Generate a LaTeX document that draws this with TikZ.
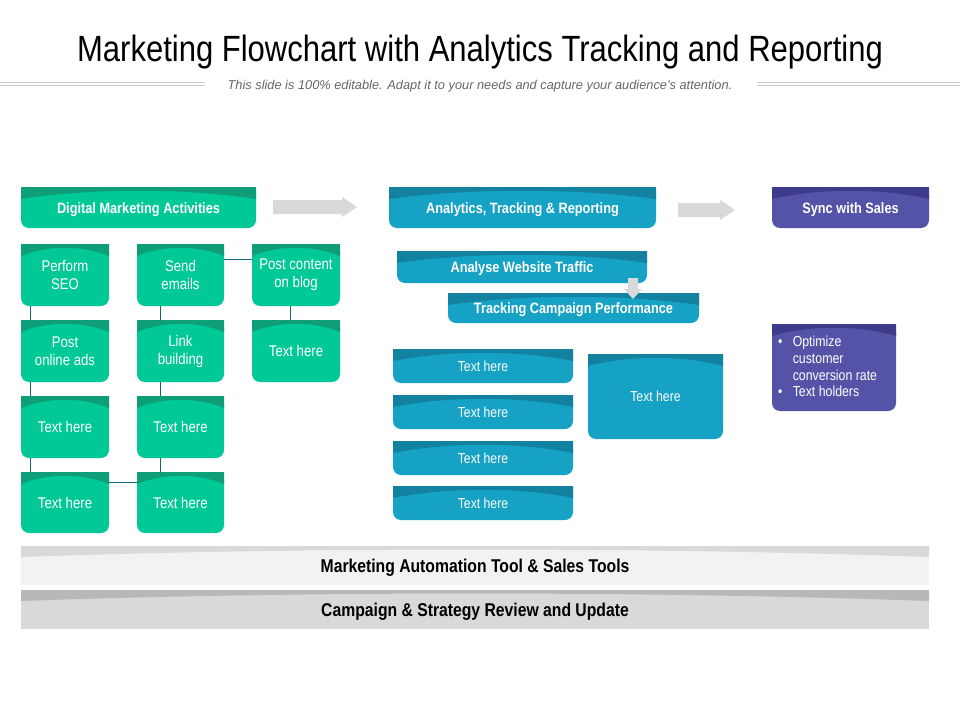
\documentclass[tikz,border=0pt]{standalone}
\usepackage{fontspec}
\setmainfont{Liberation Sans}
\newfontfamily\narrow[FakeStretch=0.85]{Liberation Sans}
\usetikzlibrary{calc}
\definecolor{gL}{RGB}{0,200,150}
\definecolor{gD}{RGB}{14,158,120}
\definecolor{bL}{RGB}{22,162,196}
\definecolor{bD}{RGB}{18,130,160}
\definecolor{pL}{RGB}{85,83,168}
\definecolor{pD}{RGB}{62,60,138}
\definecolor{arr}{RGB}{217,217,217}
\tikzset{lbl/.style={text=white,align=center,inner sep=0pt,font=\narrow\fontsize{15.5}{18}\selectfont},
  hdr/.style={text=white,align=center,inner sep=0pt,yshift=-2pt,font=\narrow\bfseries\fontsize{15}{17}\selectfont},
  conn/.style={draw=bD!80!black,line width=0.9pt}}
% name, x1,y1,x2,y2, light, dark, style, text
\newcommand{\cbox}[9]{%
  \fill[#6,rounded corners=8pt] (#2,#3) rectangle (#4,#5);
  \fill[#6] (#2,#3) rectangle (#4,{#3+12});
  \fill[#7] (#2,#3) -- (#4,#3) -- (#4,{#3+12}) .. controls ({#4-0.3*(#4-#2)},{#3+1}) and ({#2+0.3*(#4-#2)},{#3+1}) .. (#2,{#3+12}) -- cycle;
  \node[#8,minimum width={(#4-#2)*1pt},minimum height={(#5-#3)*1pt}] (#1) at ({(#2+#4)/2},{(#3+#5)/2}) {#9};}
\begin{document}
\begin{tikzpicture}[x=1pt,y=-1pt]
\useasboundingbox (0,0) rectangle (960,720);
\node[font=\narrow\fontsize{36.5}{39}\selectfont] (title) at (480,52) {Marketing Flowchart with Analytics Tracking and Reporting};
\node[font=\itshape\fontsize{12.8}{14}\selectfont,text=black!60] (sub) at (480,86) {This slide is 100\% editable. Adapt it to your needs and capture your audience's attention.};
\foreach \yy in {82,85}{\draw[black!20] (0,\yy) -- (205,\yy); \draw[black!20] (757,\yy) -- (960,\yy);}
% headers
\cbox{dma}{21}{187}{256}{228}{gL}{gD}{hdr}{Digital Marketing Activities}
\cbox{atr}{389}{187}{656}{228}{bL}{bD}{hdr}{Analytics, Tracking \& Reporting}
\cbox{sws}{772}{187}{929}{228}{pL}{pD}{hdr}{Sync with Sales}
\fill[arr] (273,200) -- (342,200) -- (342,197) -- (357,207) -- (342,217) -- (342,214) -- (273,214) -- cycle;
\fill[arr] (678,203) -- (720,203) -- (720,200) -- (735,210) -- (720,220) -- (720,217) -- (678,217) -- cycle;
% green grid
\cbox{g11}{21}{244}{109}{306}{gL}{gD}{lbl}{Perform\\SEO}
\cbox{g12}{137}{244}{224}{306}{gL}{gD}{lbl}{Send\\emails}
\cbox{g13}{252}{244}{340}{306}{gL}{gD}{lbl}{Post content\\on blog}
\cbox{g21}{21}{320}{109}{382}{gL}{gD}{lbl}{Post\\online ads}
\cbox{g22}{137}{320}{224}{382}{gL}{gD}{lbl}{Link\\building}
\cbox{g23}{252}{320}{340}{382}{gL}{gD}{lbl}{Text here}
\cbox{g31}{21}{396}{109}{458}{gL}{gD}{lbl}{Text here}
\cbox{g32}{137}{396}{224}{458}{gL}{gD}{lbl}{Text here}
\cbox{g41}{21}{472}{109}{533}{gL}{gD}{lbl}{Text here}
\cbox{g42}{137}{472}{224}{533}{gL}{gD}{lbl}{Text here}
\draw[conn] ([xshift=10pt]g11.south west) -- ([xshift=10pt]g21.north west);
\draw[conn] ([xshift=10pt]g21.south west) -- ([xshift=10pt]g31.north west);
\draw[conn] ([xshift=10pt]g31.south west) -- ([xshift=10pt]g41.north west);
\draw[conn] ([xshift=24pt]g12.south west) -- ([xshift=24pt]g22.north west);
\draw[conn] ([xshift=24pt]g22.south west) -- ([xshift=24pt]g32.north west);
\draw[conn] ([xshift=24pt]g32.south west) -- ([xshift=24pt]g42.north west);
\draw[conn] ([yshift=-16pt]g12.north east) -- ([yshift=-16pt]g13.north west);
\draw[conn] ([xshift=39pt]g13.south west) -- ([xshift=39pt]g23.north west);
\draw[conn] ([yshift=-11pt]g41.north east) -- ([yshift=-11pt]g42.north west);
% blue
\cbox{awt}{397}{251}{647}{283}{bL}{bD}{hdr}{Analyse Website Traffic}
\cbox{tcp}{448}{293}{699}{323}{bL}{bD}{hdr}{Tracking Campaign Performance}
\fill[arr] (628,278) -- (638,278) -- (638,289) -- (642,289) -- (633,299) -- (624,289) -- (628,289) -- cycle;
\cbox{t1}{393}{349}{573}{383}{bL}{bD}{lbl}{\fontsize{14.4}{16}\selectfont Text here}
\cbox{t2}{393}{395}{573}{429}{bL}{bD}{lbl}{\fontsize{14.4}{16}\selectfont Text here}
\cbox{t3}{393}{441}{573}{475}{bL}{bD}{lbl}{\fontsize{14.4}{16}\selectfont Text here}
\cbox{t4}{393}{486}{573}{520}{bL}{bD}{lbl}{\fontsize{14.4}{16}\selectfont Text here}
\cbox{t5}{588}{354}{723}{439}{bL}{bD}{lbl}{\fontsize{14.4}{16}\selectfont Text here}
% purple list
\cbox{pl}{772}{324}{896}{411}{pL}{pD}{lbl}{}
\node[text=white,align=left,font=\narrow\fontsize{14.5}{16.7}\selectfont,anchor=north west,inner sep=0pt] (plt) at (778,336) {\textbullet\ \ \ Optimize\\\phantom{\textbullet\ \ \ }customer\\\phantom{\textbullet\ \ \ }conversion rate\\\textbullet\ \ \ Text holders};
% bottom bars
\fill[black!5] (21,546) rectangle (929,585);
\fill[black!15] (21,546) -- (929,546) -- (929,557) .. controls (650,547) and (300,547) .. (21,557) -- cycle;
\node[font=\narrow\bfseries\fontsize{18.5}{20}\selectfont] (b1) at (475,568) {Marketing Automation Tool \& Sales Tools};
\fill[black!15] (21,590) rectangle (929,629);
\fill[black!28] (21,590) -- (929,590) -- (929,601) .. controls (650,591) and (300,591) .. (21,601) -- cycle;
\node[font=\narrow\bfseries\fontsize{18.5}{20}\selectfont] (b2) at (475,612) {Campaign \& Strategy Review and Update};
\end{tikzpicture}
\end{document}
